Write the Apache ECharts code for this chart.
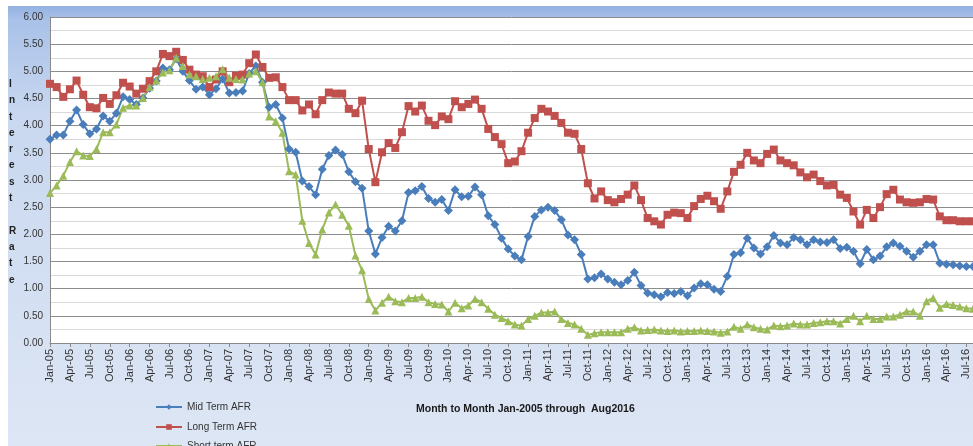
<!DOCTYPE html>
<html>
<head>
<meta charset="utf-8">
<script src="https://cdn.jsdelivr.net/npm/echarts@6/dist/echarts.min.js"></script>
<style>
  html, body { margin: 0; padding: 0; background: #fff; }
  #chart { width: 973px; height: 446px; }
</style>
</head>
<body>
<div id="chart"></div>
<script>
// month labels Jan-05 .. Aug-16
const monthNames = ['Jan','Feb','Mar','Apr','May','Jun','Jul','Aug','Sep','Oct','Nov','Dec'];
const years = ['05','06','07','08','09','10','11','12','13','14','15','16'];
const lastMonthCount = 8; // 2016 runs to Aug

const categories = [];
years.forEach((y, yi) => {
    const n = yi === years.length - 1 ? lastMonthCount : 12;
    for (let m = 0; m < n; m++) categories.push(monthNames[m] + '-' + y);
});

const yTicks = ['0.00','0.50','1.00','1.50','2.00','2.50','3.00','3.50','4.00','4.50','5.00','5.50','6.00'];

const midTerm = [
    3.75, 3.83, 3.83, 4.08, 4.29, 4.02, 3.85, 3.94, 4.18, 4.08, 4.23, 4.53,
    4.48, 4.39, 4.51, 4.69, 4.82, 5.06, 5.03, 5.23, 5.00, 4.83, 4.67, 4.71,
    4.57, 4.68, 4.86, 4.60, 4.61, 4.64, 4.96, 5.10, 4.80, 4.34, 4.39, 4.14,
    3.57, 3.51, 2.98, 2.88, 2.73, 3.20, 3.45, 3.55, 3.47, 3.15, 2.97, 2.85,
    2.06, 1.64, 1.94, 2.15, 2.06, 2.25, 2.77, 2.80, 2.88, 2.66, 2.59, 2.64,
    2.44, 2.82, 2.69, 2.70, 2.87, 2.73, 2.34, 2.18, 1.93, 1.73, 1.60, 1.53,
    1.96, 2.33, 2.45, 2.50, 2.44, 2.27, 1.99, 1.90, 1.63, 1.18, 1.20, 1.27,
    1.18, 1.12, 1.07, 1.15, 1.30, 1.06, 0.92, 0.89, 0.85, 0.93, 0.91, 0.95,
    0.87, 1.01, 1.09, 1.07, 0.99, 0.95, 1.23, 1.63, 1.66, 1.93, 1.75, 1.64,
    1.77, 1.98, 1.84, 1.81, 1.94, 1.90, 1.81, 1.90, 1.86, 1.85, 1.90, 1.74,
    1.76, 1.69, 1.46, 1.72, 1.53, 1.60, 1.77, 1.84, 1.78, 1.69, 1.58, 1.69,
    1.81, 1.81, 1.47, 1.45, 1.44, 1.42, 1.41, 1.41
];

const longTerm = [
    4.77, 4.71, 4.53, 4.67, 4.83, 4.57, 4.34, 4.32, 4.51, 4.40, 4.56, 4.79,
    4.72, 4.59, 4.68, 4.82, 5.00, 5.32, 5.28, 5.36, 5.21, 5.03, 4.94, 4.91,
    4.71, 4.85, 5.00, 4.80, 4.92, 4.94, 5.15, 5.31, 5.08, 4.88, 4.89, 4.71,
    4.47, 4.47, 4.28, 4.39, 4.21, 4.47, 4.61, 4.59, 4.59, 4.31, 4.23, 4.46,
    3.57, 2.96, 3.51, 3.68, 3.59, 3.88, 4.36, 4.26, 4.37, 4.09, 4.01, 4.17,
    4.12, 4.45, 4.34, 4.40, 4.48, 4.31, 3.94, 3.79, 3.66, 3.31, 3.34, 3.53,
    3.87, 4.14, 4.31, 4.26, 4.18, 4.05, 3.87, 3.85, 3.57, 2.94, 2.66, 2.79,
    2.63, 2.59, 2.65, 2.73, 2.90, 2.63, 2.30, 2.24, 2.18, 2.36, 2.40, 2.39,
    2.30, 2.52, 2.65, 2.71, 2.61, 2.47, 2.79, 3.15, 3.28, 3.50, 3.36, 3.31,
    3.48, 3.56, 3.36, 3.31, 3.27, 3.14, 3.05, 3.10, 2.98, 2.90, 2.91, 2.73,
    2.67, 2.42, 2.18, 2.45, 2.30, 2.50, 2.74, 2.82, 2.64, 2.59, 2.58, 2.59,
    2.65, 2.64, 2.33, 2.26, 2.26, 2.24, 2.24, 2.24
];

const shortTerm = [
    2.76, 2.90, 3.08, 3.33, 3.53, 3.45, 3.44, 3.57, 3.88, 3.88, 4.02, 4.33,
    4.37, 4.37, 4.51, 4.71, 4.83, 4.98, 5.02, 5.25, 5.10, 4.94, 4.91, 4.86,
    4.88, 4.91, 5.04, 4.88, 4.86, 4.85, 4.96, 5.00, 4.80, 4.17, 4.08, 3.87,
    3.16, 3.10, 2.25, 1.84, 1.63, 2.09, 2.40, 2.55, 2.36, 2.16, 1.61, 1.34,
    0.81, 0.60, 0.74, 0.85, 0.77, 0.75, 0.83, 0.83, 0.85, 0.75, 0.72, 0.71,
    0.58, 0.74, 0.64, 0.69, 0.81, 0.75, 0.63, 0.52, 0.46, 0.40, 0.34, 0.32,
    0.44, 0.50, 0.56, 0.56, 0.58, 0.44, 0.37, 0.34, 0.26, 0.15, 0.18, 0.20,
    0.20, 0.20, 0.20, 0.26, 0.29, 0.23, 0.24, 0.25, 0.23, 0.22, 0.23, 0.21,
    0.22, 0.22, 0.23, 0.22, 0.21, 0.19, 0.21, 0.30, 0.26, 0.34, 0.29, 0.26,
    0.25, 0.32, 0.31, 0.32, 0.36, 0.34, 0.34, 0.37, 0.38, 0.40, 0.40, 0.36,
    0.44, 0.50, 0.40, 0.50, 0.44, 0.44, 0.49, 0.49, 0.52, 0.58, 0.58, 0.50,
    0.77, 0.83, 0.65, 0.72, 0.70, 0.67, 0.64, 0.63
];

const seriesNames = ['Mid Term AFR', 'Long Term AFR', 'Short term AFR'];
const yTitle = ['I','n','t','e','r','e','s','t','','R','a','t','e'];

const FONT = '"Liberation Sans", Arial, sans-serif';

let myChart = echarts.init(document.getElementById('chart'), null, {renderer: 'canvas'});

function lineSeries(name, data, color, symbol, size) {
    return {
        name: name,
        type: 'line',
        data: data,
        symbol: symbol,
        symbolSize: size,
        showAllSymbol: true,
        lineStyle: {color: color, width: 2},
        itemStyle: {color: color},
        emphasis: {disabled: true},
        animation: false
    };
}

// one legend per entry so the last one can sit at the bottom edge like the source
function legendItem(name, top) {
    return {
        orient: 'vertical',
        left: 155, top: top,
        padding: 0,
        itemWidth: 26, itemHeight: 7, itemGap: 3,
        data: [name],
        textStyle: {fontFamily: FONT, fontSize: 10, color: '#333'}
    };
}

let option = {
    animation: false,
    backgroundColor: '#fff',
    graphic: [
        {
            type: 'rect', z: -10, silent: true,
            shape: {x: 8, y: 6, width: 965, height: 440},
            style: {
                fill: new echarts.graphic.LinearGradient(0, 0, 0, 1, [
                    {offset: 0, color: '#93b1e2'},
                    {offset: 0.03, color: '#a9c1e8'},
                    {offset: 0.25, color: '#c9d8f0'},
                    {offset: 1, color: '#dde6f4'}
                ])
            }
        },
        {
            type: 'text', silent: true,
            left: 9, top: 76,
            style: {
                text: yTitle.join('\n'),
                font: 'bold 10px ' + FONT,
                fill: '#222',
                lineHeight: 16.3,
                align: 'center'
            }
        }
    ],
    title: {
        text: 'Month to Month Jan-2005 through  Aug2016',
        left: 411, top: 399,
        textStyle: {fontFamily: FONT, fontSize: 10.5, fontWeight: 'bold', color: '#1a1a1a'}
    },
    legend: [
        legendItem(seriesNames[0], 402),
        legendItem(seriesNames[1], 422),
        legendItem(seriesNames[2], 441)
    ],
    grid: {
        left: 50, right: -6, top: 17, bottom: 103,
        show: true, backgroundColor: '#fff', borderWidth: 0
    },
    xAxis: {
        type: 'category',
        data: categories,
        boundaryGap: false,
        axisLine: {lineStyle: {color: '#8a8a8a', width: 1}},
        axisTick: {show: true, interval: 2, length: 4, lineStyle: {color: '#8a8a8a'}},
        axisLabel: {interval: 2, rotate: 90, margin: 6, fontFamily: FONT, fontSize: 11, color: '#333'},
        splitLine: {show: false}
    },
    yAxis: {
        type: 'value',
        min: 0, max: 6, interval: 0.5,
        axisLine: {show: true, lineStyle: {color: '#8a8a8a'}},
        axisTick: {show: false},
        axisLabel: {
            margin: 7, fontFamily: FONT, fontSize: 10, color: '#333',
            formatter: v => yTicks[Math.round(v / 0.5)]
        },
        splitLine: {show: true, lineStyle: {color: '#8c8c8c', width: 1}},
        minorTick: {show: false, splitNumber: 2},
        minorSplitLine: {show: true, lineStyle: {color: '#d9d9d9', width: 1}}
    },
    series: [
        lineSeries(seriesNames[0], midTerm, '#4a7ebb', 'diamond', 9),
        lineSeries(seriesNames[1], longTerm, '#c0504d', 'rect', 8),
        lineSeries(seriesNames[2], shortTerm, '#9bbb59', 'triangle', 8)
    ]
};
myChart.setOption(option);
</script>
</body>
</html>
